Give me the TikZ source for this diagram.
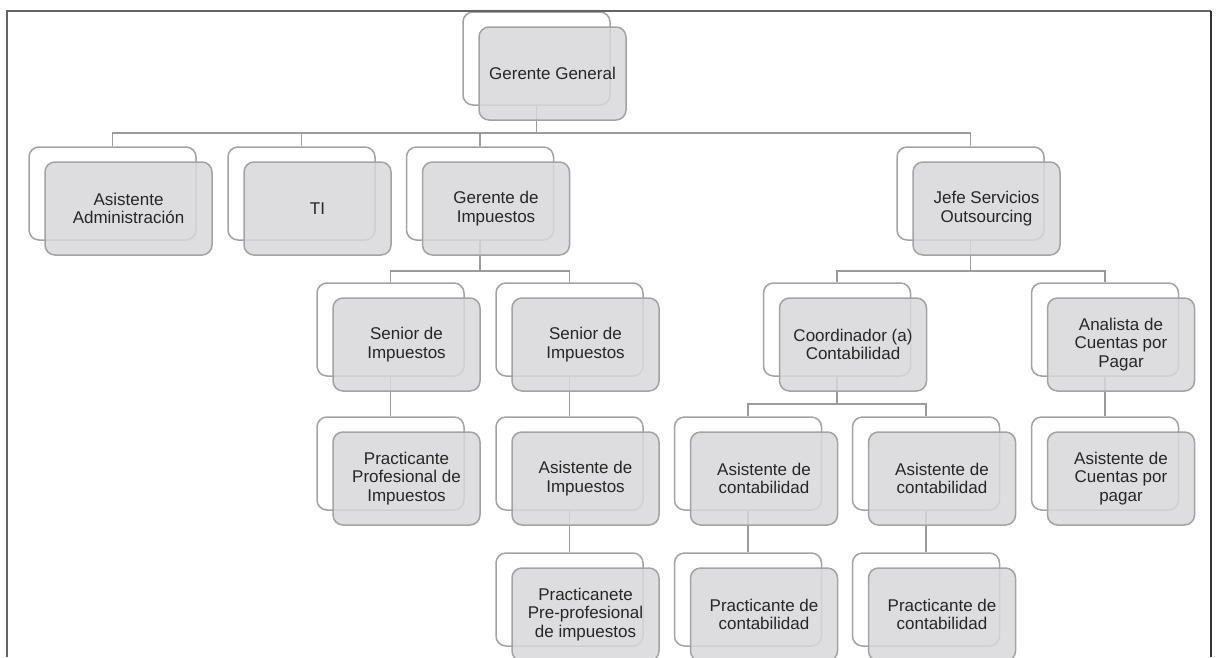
\documentclass[tikz,border=0pt]{standalone}
\usepackage{fontspec}
\setmainfont{Liberation Sans}
\pgfdeclarelayer{backl}
\pgfdeclarelayer{lines}
\pgfsetlayers{backl,lines,main}
\definecolor{boxline}{RGB}{163,163,163}
\definecolor{boxfill}{RGB}{216,216,219}
\definecolor{connline}{RGB}{155,155,155}
\definecolor{txt}{RGB}{38,38,38}
\definecolor{frameline}{RGB}{100,100,100}
\tikzset{
  backbox/.style={draw=boxline, line width=1.5pt, fill=white, rounded corners=10pt,
    rectangle, minimum height=93pt, inner sep=0pt},
  frontbox/.style={draw=boxline, line width=1.5pt, fill=boxfill, fill opacity=0.85,
    text opacity=1, rounded corners=10pt, rectangle, minimum height=93pt, inner sep=0pt,
    align=center, text=txt, font=\fontsize{17}{18.5}\selectfont},
  conn/.style={draw=connline, line width=1.5pt},
  framestroke/.style={line width=2pt, draw=frameline}
}
% #1 name, #2 centre x, #3 centre y (downwards), #4 width, #5 label
\newcommand{\orgbox}[5]{%
  \begin{pgfonlayer}{backl}
    \node[backbox, minimum width=#4pt] (#1) at (#2,#3) {};
  \end{pgfonlayer}
  \node[frontbox, minimum width=#4pt] (#1-f) at ({#2+16},{#3+15}) {#5};
}
\begin{document}
\begin{tikzpicture}[x=1pt, y=-1pt]
\useasboundingbox (0,0) rectangle (1216,657);
\clip (0,0) rectangle (1216,657);

% outer frame, open at the bottom
\draw[framestroke] (7,657) -- (7,11) -- (1211,11);
\draw[line width=1.8pt, draw=black!80] (1211,11) -- (1211,657);

% level 1
\orgbox{gg}{536.5}{58.5}{147}{Gerente General}
% level 2
\orgbox{asis}{112.5}{193.5}{167}{Asistente\\Administración}
\orgbox{ti}{301.5}{193.5}{147}{TI}
\orgbox{gi}{480}{193.5}{147}{Gerente de\\Impuestos}
\orgbox{jefe}{970.5}{193.5}{147}{Jefe Servicios\\Outsourcing}
% level 3
\orgbox{sen1}{390.5}{329.5}{147}{Senior de\\Impuestos}
\orgbox{sen2}{569.5}{329.5}{147}{Senior de\\Impuestos}
\orgbox{coord}{837}{329.5}{147}{Coordinador (a)\\Contabilidad}
\orgbox{anal}{1105}{329.5}{147}{Analista de\\Cuentas por\\Pagar}
% level 4
\orgbox{pprof}{390.5}{463.5}{147}{Practicante\\Profesional de\\Impuestos}
\orgbox{aimp}{569.5}{463.5}{147}{Asistente de\\Impuestos}
\orgbox{acont1}{748}{463.5}{147}{Asistente de\\contabilidad}
\orgbox{acont2}{926}{463.5}{147}{Asistente de\\contabilidad}
\orgbox{acxp}{1105}{463.5}{147}{Asistente de\\Cuentas por\\pagar}
% level 5
\orgbox{ppre}{569.5}{599.5}{147}{Practicanete\\Pre-profesional\\de impuestos}
\orgbox{pcont1}{748}{599.5}{147}{Practicante de\\contabilidad}
\orgbox{pcont2}{926}{599.5}{147}{Practicante de\\contabilidad}

% connectors
\begin{pgfonlayer}{lines}
  \coordinate (busA) at (0,133);
  \coordinate (busB) at (0,271);
  \coordinate (busC) at (0,404);
  \draw[conn] (gg.south) -- (gg.south |- busA);
  \draw[conn] (asis.north) -- (asis.north |- busA) -| (jefe.north);
  \draw[conn] (ti.north) -- (ti.north |- busA);
  \draw[conn] (gi.north) -- (gi.north |- busA);

  \draw[conn] (gi.south) -- (gi.south |- busB);
  \draw[conn] (sen1.north) -- (sen1.north |- busB) -| (sen2.north);
  \draw[conn] (jefe.south) -- (jefe.south |- busB);
  \draw[conn] (coord.north) -- (coord.north |- busB) -| (anal.north);

  \draw[conn] (sen1.south) -- (pprof.north);
  \draw[conn] (sen2.south) -- (aimp.north);
  \draw[conn] (aimp.south) -- (ppre.north);

  \draw[conn] (coord.south) -- (coord.south |- busC);
  \draw[conn] (acont1.north) -- (acont1.north |- busC) -| (acont2.north);
  \draw[conn] (acont1.south) -- (pcont1.north);
  \draw[conn] (acont2.south) -- (pcont2.north);
  \draw[conn] (anal.south) -- (acxp.north);
\end{pgfonlayer}
\end{tikzpicture}
\end{document}
